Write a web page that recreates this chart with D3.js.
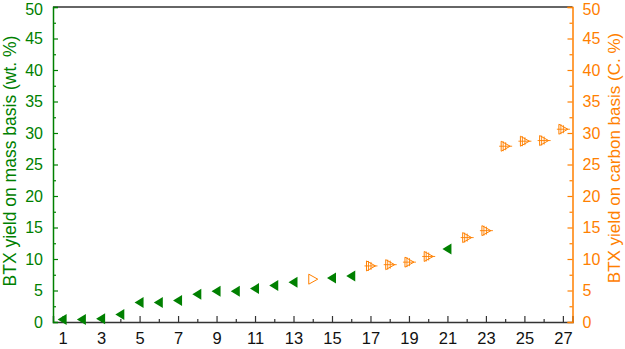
<!DOCTYPE html>
<html><head><meta charset="utf-8">
<script src="https://cdn.jsdelivr.net/npm/d3@7"></script>
<style>body{margin:0;background:#fff}svg{display:block}text{font-family:"Liberation Sans",Arial,sans-serif}</style>
</head><body><svg id="c" width="625" height="349"></svg>
<script>
const massX = [1,2,3,4,5,6,7,8,9,10,11,12,13,15,16,21];
const massY = [0.4,0.4,0.5,1.2,3.1,3.1,3.4,4.4,4.9,4.9,5.3,5.8,6.3,7.0,7.3,11.6];
const carbonX = [14,17,18,19,20,22,23,24,25,26,27];
const carbonY = [6.8,8.9,9.1,9.5,10.4,13.4,14.5,27.9,28.7,28.8,30.6];
const carbonCross = [false,true,true,true,true,true,true,true,true,true,true];
const xTicks = [1,3,5,7,9,11,13,15,17,19,21,23,25,27];
const yTicks = [0,5,10,15,20,25,30,35,40,45,50];
const leftTitle = "BTX yield on mass basis (wt. %)";
const rightTitle = "BTX yield on carbon basis (C. %)";

const GREEN = "#008000", ORANGE = "#ff8000", DARK = "#333";
const L = 53, R = 572.5, T = 7, B = 322;
const svg = d3.select("#c");
const x = d3.scaleLinear().domain([0.5, 27.5]).range([L, R]);
const y = d3.scaleLinear().domain([0, 50]).range([B, T]);

// top border
svg.append("line").attr("x1", L).attr("x2", R).attr("y1", T).attr("y2", T).attr("stroke", DARK).attr("stroke-width", 1.5);

// bottom axis
const xa = svg.append("g").attr("transform", `translate(0,${B})`);
xa.call(d3.axisBottom(x).tickValues(xTicks).tickSize(-6).tickPadding(10).tickFormat(d3.format("d")));
xa.append("g").call(d3.axisBottom(x).tickValues(d3.range(2, 27, 2)).tickSize(-3).tickFormat(""));
xa.selectAll(".domain").attr("stroke", DARK).attr("stroke-width", 1.5);
xa.selectAll("line").attr("stroke", DARK).attr("stroke-width", 1.2);
xa.selectAll("text").attr("font-size", 16.5).attr("fill", "#111").attr("dy", "0.71em");
xa.selectAll("g g .domain").remove();

function styleY(g, color) {
  g.selectAll(".domain").attr("stroke", color).attr("stroke-width", 1.5);
  g.selectAll("line").attr("stroke", color).attr("stroke-width", 1.2);
  g.selectAll("text").attr("font-size", 16).attr("fill", color)
    .attr("dy", d => d === 50 ? "0.45em" : "0.32em");
  g.selectAll("g g .domain").remove();
}

// left axis
const ya = svg.append("g").attr("transform", `translate(${L},0)`);
ya.call(d3.axisLeft(y).tickValues(yTicks).tickSize(-5).tickPadding(10));
ya.append("g").call(d3.axisLeft(y).tickValues(d3.range(2.5, 50, 5)).tickSize(-3).tickFormat(""));
styleY(ya, GREEN);

// right axis
const ra = svg.append("g").attr("transform", `translate(${R},0)`);
ra.call(d3.axisRight(y).tickValues(yTicks).tickSize(-5).tickPadding(10));
ra.append("g").call(d3.axisRight(y).tickValues(d3.range(2.5, 50, 5)).tickSize(-3).tickFormat(""));
styleY(ra, ORANGE);

// titles
svg.append("text").attr("transform", `translate(16,161) rotate(-90)`)
  .attr("text-anchor", "middle").attr("font-size", 17.5).attr("fill", GREEN).text(leftTitle);
svg.append("text").attr("transform", `translate(620,158) rotate(-90)`)
  .attr("text-anchor", "middle").attr("font-size", 17).attr("fill", ORANGE).text(rightTitle);

// mass markers: filled left-pointing triangles
const mass = massX.map((d, i) => ({x: d, y: massY[i]}));
svg.append("g").selectAll("path").data(mass).join("path")
  .attr("transform", d => `translate(${x(d.x)},${y(d.y)})`)
  .attr("d", "M-5,0L4,-5.5L4,5.5Z").attr("fill", GREEN);

// carbon markers: open right-pointing triangles (+ crosshair)
const carbon = carbonX.map((d, i) => ({x: d, y: carbonY[i], c: carbonCross[i]}));
const cg = svg.append("g").selectAll("g").data(carbon).join("g")
  .attr("transform", d => `translate(${x(d.x)},${y(d.y)})`);
cg.append("path").attr("d", "M5,0L-4,-5L-4,5Z").attr("fill", "none").attr("stroke", ORANGE).attr("stroke-width", 1);
cg.filter(d => d.c).append("path").attr("d", "M-6,0H7M-2,-5V5M0.5,-4V4")
  .attr("fill", "none").attr("stroke", ORANGE).attr("stroke-width", 0.9);
</script></body></html>
